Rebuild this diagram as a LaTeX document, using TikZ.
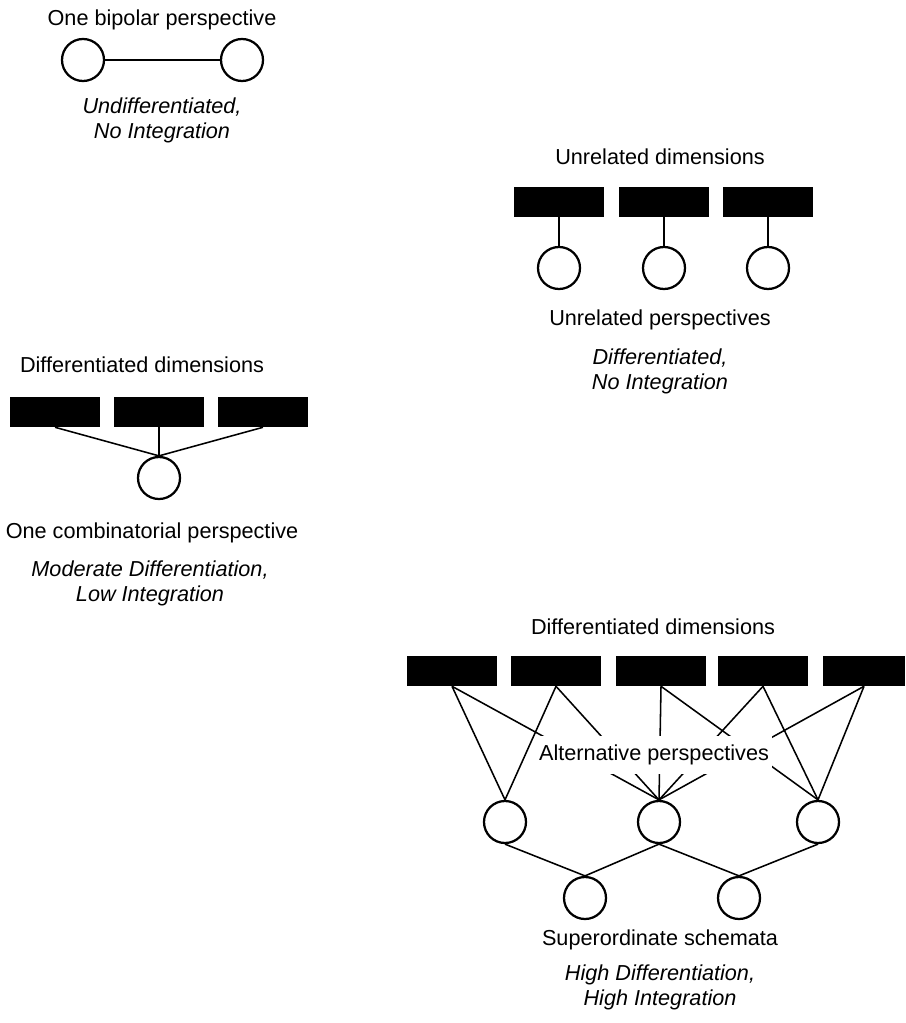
\documentclass[tikz,border=0pt]{standalone}
\usepackage{fontspec}
\setmainfont{Liberation Sans}
\begin{document}
\begin{tikzpicture}[x=0.025cm,y=-0.025cm,
    font=\fontsize{15.4}{17.7}\selectfont,
    dim/.style={fill=black,minimum width=2.25cm,minimum height=0.75cm,inner sep=0pt},
    persp/.style={circle,draw,line width=1.6pt,minimum size=1.05cm,inner sep=0pt},
    tie/.style={line width=1.1pt},
    lvl/.style={font=\fontsize{15.4}{17.7}\selectfont\itshape,align=center}]
    \useasboundingbox (0,0) rectangle (905,1023);
    % ---- Undifferentiated ----
    \node (bptitle) at (162,20) {One bipolar perspective};
    \node[persp] (bp1) at (83,60) {};
    \node[persp] (bp2) at (242,60) {};
    \draw[tie] (bp1) -- (bp2);
    \node[lvl] (bplvl) at (162,120) {Undifferentiated,\\No Integration};
    % ---- Differentiated, no integration ----
    \node (urtitle) at (660,157) {Unrelated dimensions};
    \foreach \i/\x in {1/559,2/664,3/768} {
        \node[dim] (ur\i) at (\x,202) {};
        \node[persp] (up\i) at (\x,268) {};
        \draw[tie] (ur\i.south) -- (up\i.north);
    }
    \node (uplabel) at (660,320) {Unrelated perspectives};
    \node[lvl] (urlvl) at (660,371) {Differentiated,\\No Integration};
    % ---- Moderate differentiation ----
    \node (ddtitle) at (142,365) {Differentiated dimensions};
    \foreach \i/\x in {1/55,2/159,3/263}
        \node[dim] (dd\i) at (\x,412) {};
    \node[persp] (cp) at (159,478) {};
    \foreach \i in {1,2,3}
        \draw[tie] (dd\i.south) -- (cp.north);
    \node (cplabel) at (152,533) {One combinatorial perspective};
    \node[lvl] (ddlvl) at (150,583) {Moderate Differentiation,\\Low Integration};
    % ---- High differentiation ----
    \node (hdtitle) at (653,627) {Differentiated dimensions};
    \foreach \i/\x in {1/452,2/556,3/661,4/763}
        \node[dim] (hd\i) at (\x,671) {};
    \node[dim,minimum width=2.05cm] (hd5) at (864,671) {};
    \foreach \i/\x in {1/505,2/659,3/818}
        \node[persp] (ap\i) at (\x,822) {};
    \node[persp] (ss1) at (585,898) {};
    \node[persp] (ss2) at (739,898) {};
    \foreach \d/\p in {1/1,1/2,2/1,2/2,3/2,3/3,4/2,4/3,5/2,5/3}
        \draw[tie] (hd\d.south) -- (ap\p.north);
    \foreach \p/\s in {1/1,2/1,2/2,3/2}
        \draw[tie] (ap\p.south) -- (ss\s.north);
    \node[fill=white,inner xsep=2pt,inner ysep=6pt] (aplabel) at (654,755) {Alternative perspectives};
    \node (sslabel) at (660,940) {Superordinate schemata};
    \node[lvl] (hdlvl) at (660,987) {High Differentiation,\\High Integration};
\end{tikzpicture}
\end{document}
